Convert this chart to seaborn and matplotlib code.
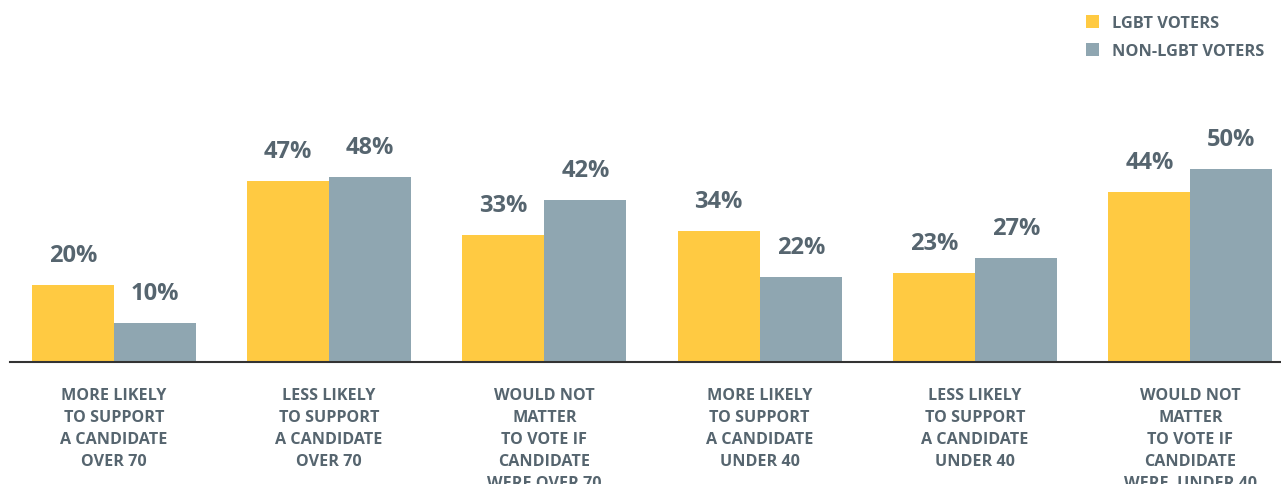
import matplotlib
matplotlib.use("Agg")
import matplotlib.pyplot as plt
import seaborn as sns
import pandas as pd

categories = [
    "MORE LIKELY\nTO SUPPORT\nA CANDIDATE\nOVER 70",
    "LESS LIKELY\nTO SUPPORT\nA CANDIDATE\nOVER 70",
    "WOULD NOT\nMATTER\nTO VOTE IF\nCANDIDATE\nWERE OVER 70",
    "MORE LIKELY\nTO SUPPORT\nA CANDIDATE\nUNDER 40",
    "LESS LIKELY\nTO SUPPORT\nA CANDIDATE\nUNDER 40",
    "WOULD NOT\nMATTER\nTO VOTE IF\nCANDIDATE\nWERE  UNDER 40",
]
series_names = ["LGBT VOTERS", "NON-LGBT VOTERS"]
lgbt_values = [20, 47, 33, 34, 23, 44]
non_lgbt_values = [10, 48, 42, 22, 27, 50]

colors = ["#FFCA42", "#8FA6B1"]
text_color = "#56656F"

sns.set_theme(style="white")
plt.rcParams["font.family"] = ["Open Sans", "DejaVu Sans"]

df = pd.DataFrame({
    "category": categories * 2,
    "series": [series_names[0]] * len(categories) + [series_names[1]] * len(categories),
    "value": lgbt_values + non_lgbt_values,
})

W, H = 1281, 485
fig = plt.figure(figsize=(W / 100, H / 100), dpi=100)
ax = fig.add_axes([10 / W, 1 - 363 / H, (W - 10) / W, (363 - 100) / H])

sns.barplot(data=df, x="category", y="value", hue="series", order=categories,
            hue_order=series_names, palette=colors, width=0.762, gap=0,
            saturation=1, linewidth=0, ax=ax)

ax.set_xlim(-0.482, 5.421)
ax.set_ylim(0, 263 / 3.855)

for container in ax.containers:
    ax.bar_label(container, labels=[f"{int(v)}%" for v in container.datavalues],
                 padding=13, fontsize=17, fontweight="bold", color=text_color,
                 clip_on=False)

for s in ["top", "right", "left"]:
    ax.spines[s].set_visible(False)
ax.spines["bottom"].set_color("#333333")
ax.spines["bottom"].set_linewidth(1.5)
ax.set_yticks([])
ax.set_xlabel("")
ax.set_ylabel("")
ax.tick_params(axis="x", length=0, pad=18)
for lbl in ax.get_xticklabels():
    lbl.set_fontsize(11.6)
    lbl.set_fontweight("bold")
    lbl.set_color(text_color)
    lbl.set_linespacing(1.5)
    lbl.set_horizontalalignment("center")
    lbl.set_multialignment("center")

sns.move_legend(ax, "upper left", bbox_to_anchor=(1086 / W, 1 - 16 / H),
                bbox_transform=fig.transFigure, frameon=False, title=None,
                fontsize=11.8, handlelength=0.8, handleheight=0.8,
                handletextpad=0.8, labelspacing=0.75, borderpad=0,
                borderaxespad=0)
leg = ax.get_legend()
for t in leg.get_texts():
    t.set_color(text_color)
    t.set_fontweight("bold")

fig.savefig("out.png", dpi=100)
